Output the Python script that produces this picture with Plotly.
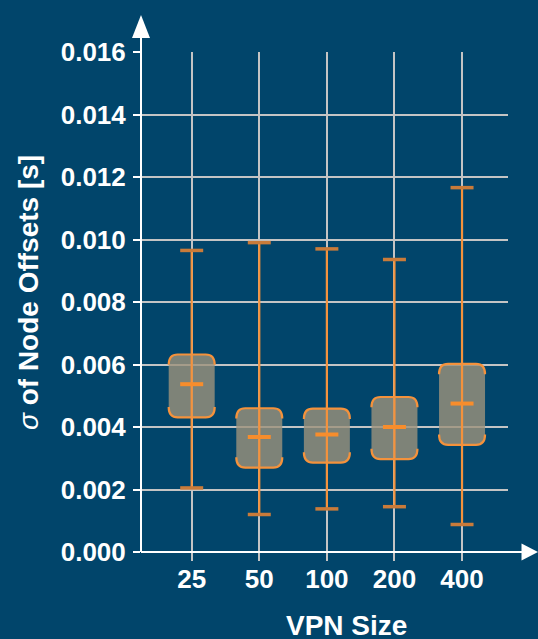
import plotly.graph_objects as go

# ---------------- data ----------------
categories = ["25", "50", "100", "200", "400"]
whisker_low = [0.00205, 0.00120, 0.00138, 0.00145, 0.00088]
q1 = [0.00431, 0.00270, 0.00286, 0.00297, 0.00343]
median = [0.00537, 0.00368, 0.00376, 0.00400, 0.00475]
q3 = [0.00632, 0.00460, 0.00459, 0.00496, 0.00602]
whisker_high = [0.00965, 0.00990, 0.00970, 0.00936, 0.01166]
y_ticks = [0.000, 0.002, 0.004, 0.006, 0.008, 0.010, 0.012, 0.014, 0.016]
y_tick_labels = ["0.000", "0.002", "0.004", "0.006", "0.008", "0.010", "0.012", "0.014", "0.016"]

# ---------------- style ----------------
BG = "#01456b"
GRID = "#c4c4c4"
ORANGE = "#f4923c"
CAP = "#c97b3a"
MED = "#f78d2c"
BOXFILL = "rgba(158,146,124,0.80)"
FONT = "Liberation Sans, Arial, sans-serif"

W, H = 538, 639
ML, MR, MT, MB = 141, 30, 52, 87
plot_w = W - ML - MR
plot_h = H - MT - MB
XR = [-0.75, 4.68]
YR = [0.0, 0.016]
px_x = plot_w / (XR[1] - XR[0])
px_y = plot_h / (YR[1] - YR[0])

box_half = 23 / px_x
cap_half = 11.5 / px_x
rx = 9 / px_x
ry = 9 / px_y

xpos = list(range(len(categories)))

fig = go.Figure()

# whiskers
wx, wy = [], []
for i in xpos:
    wx += [i, i, None]
    wy += [whisker_low[i], whisker_high[i], None]
fig.add_trace(go.Scatter(x=wx, y=wy, mode="lines",
                         line=dict(color=ORANGE, width=2.2),
                         hoverinfo="skip", showlegend=False))

shapes = []
for i in xpos:
    x0, x1 = i - box_half, i + box_half
    lo, hi = q1[i], q3[i]
    p = (f"M {x0},{lo+ry} L {x0},{hi-ry} Q {x0},{hi} {x0+rx},{hi} "
         f"L {x1-rx},{hi} Q {x1},{hi} {x1},{hi-ry} L {x1},{lo+ry} "
         f"Q {x1},{lo} {x1-rx},{lo} L {x0+rx},{lo} Q {x0},{lo} {x0},{lo+ry} Z")
    shapes.append(dict(type="path", path=p, xref="x", yref="y",
                       fillcolor=BOXFILL, line=dict(width=0), layer="between"))
    pt = (f"M {x0},{hi-ry*1.15} Q {x0},{hi} {x0+rx},{hi} "
          f"L {x1-rx},{hi} Q {x1},{hi} {x1},{hi-ry*1.15}")
    shapes.append(dict(type="path", path=pt, xref="x", yref="y",
                       line=dict(color=ORANGE, width=2.2)))
    pb = (f"M {x0},{lo+ry*1.15} Q {x0},{lo} {x0+rx},{lo} "
          f"L {x1-rx},{lo} Q {x1},{lo} {x1},{lo+ry*1.15}")
    shapes.append(dict(type="path", path=pb, xref="x", yref="y",
                       line=dict(color=ORANGE, width=2.2)))
    for v in (whisker_low[i], whisker_high[i]):
        shapes.append(dict(type="line", xref="x", yref="y",
                           x0=i - cap_half, x1=i + cap_half, y0=v, y1=v,
                           line=dict(color=CAP, width=3.5)))
    shapes.append(dict(type="line", xref="x", yref="y",
                       x0=i - cap_half, x1=i + cap_half, y0=median[i], y1=median[i],
                       line=dict(color=MED, width=4)))

# axis arrows (paper coords)
ytip = (MT + plot_h - 15) / plot_h
ybase = (MT + plot_h - 38) / plot_h
hw = 9 / plot_w
shapes.append(dict(type="line", xref="paper", yref="paper", x0=0, x1=0, y0=0, y1=ybase + 0.002,
                   line=dict(color="white", width=2)))
shapes.append(dict(type="path", xref="paper", yref="paper",
                   path=f"M {-hw},{ybase} L {hw},{ybase} L 0,{ytip} Z",
                   fillcolor="white", line=dict(width=0)))
xtip = (W - ML) / plot_w
xbase = (521.5 - ML) / plot_w
hh = 8.5 / plot_h
shapes.append(dict(type="line", xref="paper", yref="paper", x0=0, x1=xbase + 0.002, y0=0, y1=0,
                   line=dict(color="white", width=2)))
shapes.append(dict(type="path", xref="paper", yref="paper",
                   path=f"M {xbase},{hh} L {xbase},{-hh} L {xtip},0 Z",
                   fillcolor="white", line=dict(width=0)))

annotations = [
    dict(text="VPN Size", xref="paper", yref="paper",
         x=(346.5 - ML) / plot_w, y=-(625.5 - (MT + plot_h)) / plot_h,
         showarrow=False, xanchor="center", yanchor="middle",
         font=dict(family=FONT, size=28, color="white", weight="bold")),
    dict(text="<span style='font-weight:normal'><i>σ</i></span> of Node Offsets [s]",
         xref="paper", yref="paper",
         x=-(ML - 28.5) / plot_w, y=(MT + plot_h - 292.5) / plot_h,
         showarrow=False, textangle=-90, xanchor="center", yanchor="middle",
         font=dict(family=FONT, size=28, color="white", weight="bold")),
]

fig.update_layout(
    width=W, height=H,
    margin=dict(l=ML, r=MR, t=MT, b=MB, pad=0),
    paper_bgcolor=BG, plot_bgcolor=BG,
    shapes=shapes, annotations=annotations,
    showlegend=False,
    xaxis=dict(range=XR, tickvals=xpos, ticktext=categories,
               showgrid=True, gridcolor=GRID, gridwidth=2,
               zeroline=False, showline=False,
               ticks="outside", ticklen=8, tickwidth=2, tickcolor=GRID,
               ticklabelstandoff=-4,
               tickfont=dict(family=FONT, size=26, color="white", weight="bold")),
    yaxis=dict(range=YR, tickvals=y_ticks, ticktext=y_tick_labels,
               showgrid=True, gridcolor=GRID, gridwidth=2,
               zeroline=False, showline=False,
               ticks="outside", ticklen=7, tickwidth=2, tickcolor="white",
               ticklabelstandoff=2,
               tickfont=dict(family=FONT, size=26, color="white", weight="bold")),
)

fig.write_html("out.html", config={"displayModeBar": False},
               post_script="document.body.style.margin='0px';document.body.style.background='" + BG + "';")
